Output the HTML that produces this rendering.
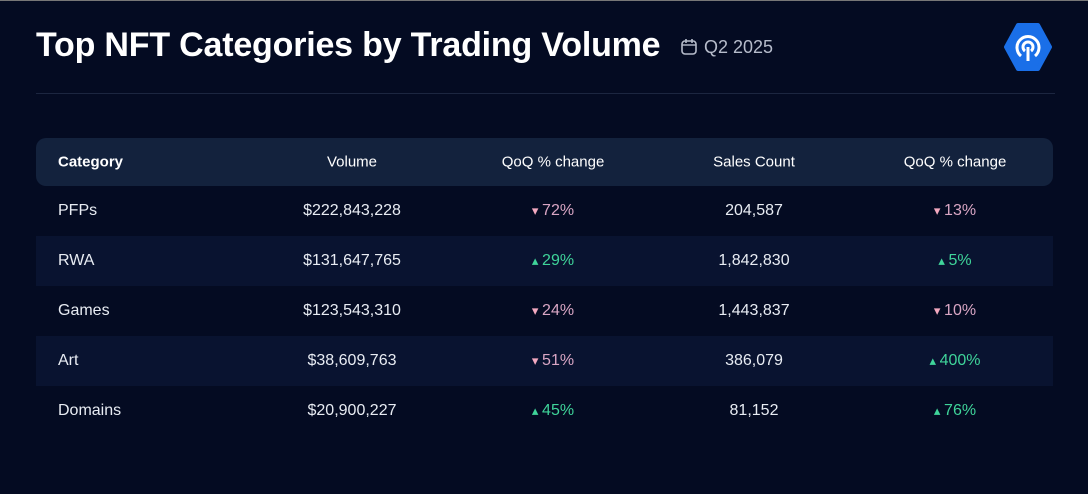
<!DOCTYPE html>
<html><head><style>
body{margin:0;width:1088px;height:494px;background:#040b22;font-family:"Liberation Sans",sans-serif;overflow:hidden;position:relative;border-top:1px solid #777;box-sizing:border-box}
.t{position:absolute;left:36px;top:25px;font-size:34px;font-weight:bold;color:#fff;letter-spacing:-0.2px}
.q{position:absolute;left:680px;top:36px;font-size:18px;color:#b6bccb}
.hr{position:absolute;left:36px;top:92px;width:1019px;height:1px;background:#1c2640}
.tb{position:absolute;left:36px;top:137px;width:1017px}
.r{height:50px;position:relative;font-size:16px;color:#e8ecf3}
.h{height:48px;background:#13223d;border-radius:10px;font-weight:bold;color:#fff;font-size:15px}
.h .c{font-weight:normal}.h .c0{font-weight:bold}
.alt{background:#091330}
.c{position:absolute;top:50%;transform:translate(-50%,-50%);white-space:nowrap}
.c0{left:22px;transform:translateY(-50%)}
.c1{left:316px}.c2{left:517px}.c3{left:718px}.c4{left:919px}
.dn{color:#d9a6c4}.up{color:#3fd49a}
.dn:before{content:"▾ ";color:#f3a9c0;font-size:13px}
.up:before{content:"▴ ";color:#3fd49a;font-size:13px}
</style></head><body>
<div class="t">Top NFT Categories by Trading Volume</div>
<div class="q"><svg width="18" height="18" viewBox="0 0 18 18" style="vertical-align:-3px;margin-right:6px"><rect x="2" y="3" width="14" height="13" rx="3" fill="none" stroke="#b6bccb" stroke-width="1.6"/><line x1="6" y1="1" x2="6" y2="5" stroke="#b6bccb" stroke-width="1.6"/><line x1="12" y1="1" x2="12" y2="5" stroke="#b6bccb" stroke-width="1.6"/><line x1="2" y1="7" x2="16" y2="7" stroke="#b6bccb" stroke-width="1.4"/></svg>Q2 2025</div>
<svg style="position:absolute;left:1003px;top:22px" width="50" height="48" viewBox="0 0 48 48"><path d="M14 2H34L46 24L34 46H14L2 24Z" fill="#1a6fe8" stroke="#1a6fe8" stroke-width="4" stroke-linejoin="round"/><path d="M17 33A11 11 0 1 1 31 33" fill="none" stroke="#fff" stroke-width="3"/><path d="M21 28A5 5 0 1 1 27 28" fill="none" stroke="#fff" stroke-width="3"/><line x1="24" y1="24" x2="24" y2="38" stroke="#fff" stroke-width="3"/></svg>
<div class="hr"></div>
<div class="tb">
<div class="r h"><span class="c c0">Category</span><span class="c c1">Volume</span><span class="c c2">QoQ % change</span><span class="c c3">Sales Count</span><span class="c c4">QoQ % change</span></div>
<div class="r"><span class="c c0">PFPs</span><span class="c c1">$222,843,228</span><span class="c c2 dn">72%</span><span class="c c3">204,587</span><span class="c c4 dn">13%</span></div>
<div class="r alt"><span class="c c0">RWA</span><span class="c c1">$131,647,765</span><span class="c c2 up">29%</span><span class="c c3">1,842,830</span><span class="c c4 up">5%</span></div>
<div class="r"><span class="c c0">Games</span><span class="c c1">$123,543,310</span><span class="c c2 dn">24%</span><span class="c c3">1,443,837</span><span class="c c4 dn">10%</span></div>
<div class="r alt"><span class="c c0">Art</span><span class="c c1">$38,609,763</span><span class="c c2 dn">51%</span><span class="c c3">386,079</span><span class="c c4 up">400%</span></div>
<div class="r"><span class="c c0">Domains</span><span class="c c1">$20,900,227</span><span class="c c2 up">45%</span><span class="c c3">81,152</span><span class="c c4 up">76%</span></div>
</div>
</body></html>
